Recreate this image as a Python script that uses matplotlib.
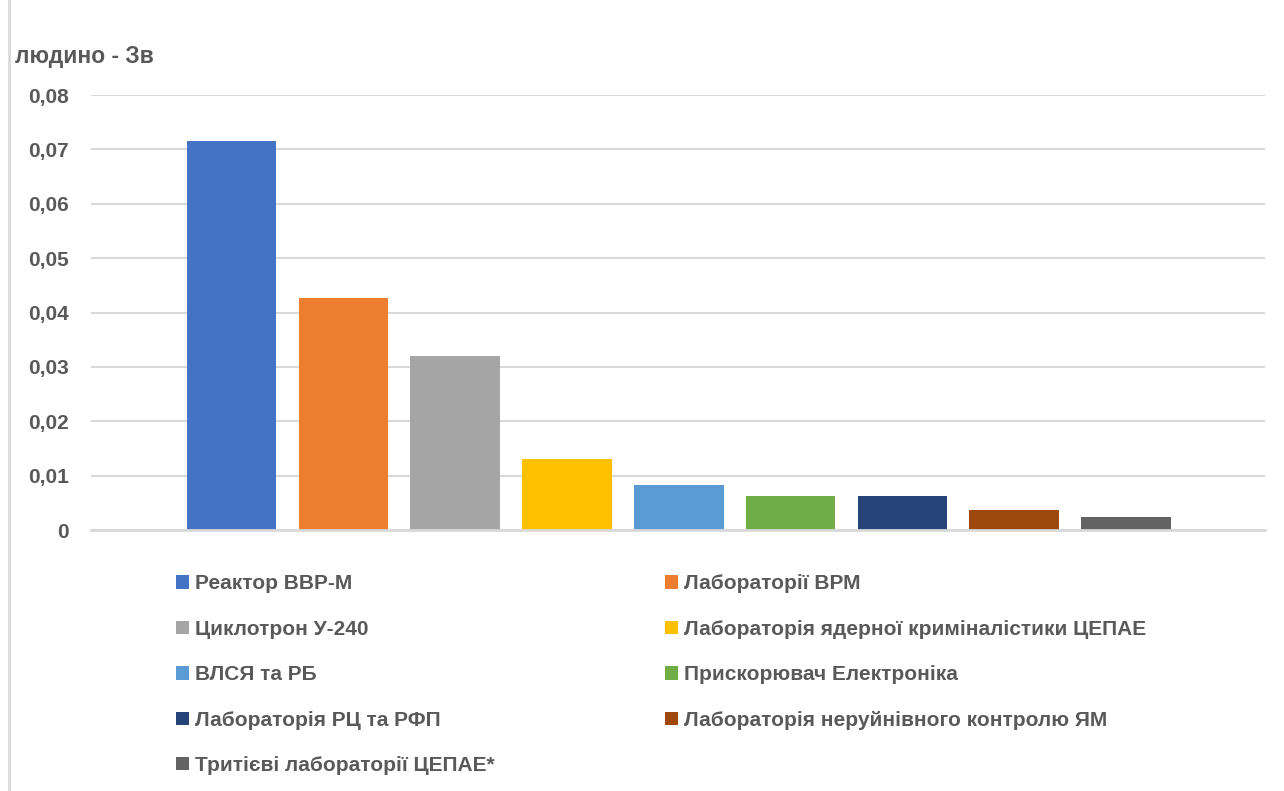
import matplotlib
matplotlib.use("Agg")
import matplotlib.pyplot as plt
from matplotlib.lines import Line2D

# data
labels = ['Реактор ВВР-М', 'Лабораторії ВРМ', 'Циклотрон У-240',
          'Лабораторія ядерної криміналістики ЦЕПАЕ', 'ВЛСЯ та РБ',
          'Прискорювач Електроніка', 'Лабораторія РЦ та РФП',
          'Лабораторія неруйнівного контролю ЯМ', 'Тритієві лабораторії ЦЕПАЕ*']
values = [0.0715, 0.0426, 0.0320, 0.0131, 0.0082, 0.0063, 0.0063, 0.0037, 0.0024]
colors = ['#4472C4', '#ED7D31', '#A5A5A5', '#FFC000', '#5B9BD5',
          '#70AD47', '#264478', '#9E480E', '#636363']
yticks = [0, 0.01, 0.02, 0.03, 0.04, 0.05, 0.06, 0.07, 0.08]
ytick_labels = ['0', '0,01', '0,02', '0,03', '0,04', '0,05', '0,06', '0,07', '0,08']

txt = '#595959'
fam = ['Liberation Sans', 'DejaVu Sans']

fig = plt.figure(figsize=(12.84, 7.91), dpi=100)
ax = fig.add_axes([91/1284, 1 - 530/791, 1174/1284, 435/791])

bars = ax.bar(range(len(values)), values, width=0.8, color=colors, zorder=3)

ax.set_xlim(-1.257, 9.243)
ax.set_ylim(0, 0.08)
ax.set_yticks(yticks)
ax.set_yticklabels(ytick_labels, fontsize=15, fontweight='bold', color=txt, family=fam)
ax.tick_params(axis='y', length=0, pad=16)
ax.set_xticks([])
ax.grid(axis='y', color='#D9D9D9', linewidth=1.5, zorder=0)
for s in ['top', 'right', 'left']:
    ax.spines[s].set_visible(False)
ax.spines['bottom'].set_color('#D9D9D9')
ax.spines['bottom'].set_linewidth(2)
ax.spines['bottom'].set_zorder(4)

fig.text(15/1284, 1 - 57/791, 'людино - Зв', fontsize=16.5, fontweight='bold',
         color=txt, family=fam, va='center', ha='left')

# left frame line of the chart area
fig.add_artist(Line2D([9/1284, 9/1284], [0, 1], color='#D9D9D9', linewidth=2))

# legend in two columns, row-major order like Excel
handles = list(bars)
col1 = [0, 2, 4, 6, 8]
col2 = [1, 3, 5, 7]
for idx, x0 in [(col1, 168), (col2, 657)]:
    leg = fig.legend([handles[i] for i in idx], [labels[i] for i in idx],
                     loc='upper left', bbox_to_anchor=(x0/1284, 1 - 566/791),
                     frameon=False, handlelength=0.6, handleheight=0.6,
                     handletextpad=0.3, labelspacing=1.27, borderaxespad=0,
                     prop={'family': fam, 'weight': 'bold', 'size': 15})
    for t in leg.get_texts():
        t.set_color(txt)

fig.savefig('out.png', dpi=100)
